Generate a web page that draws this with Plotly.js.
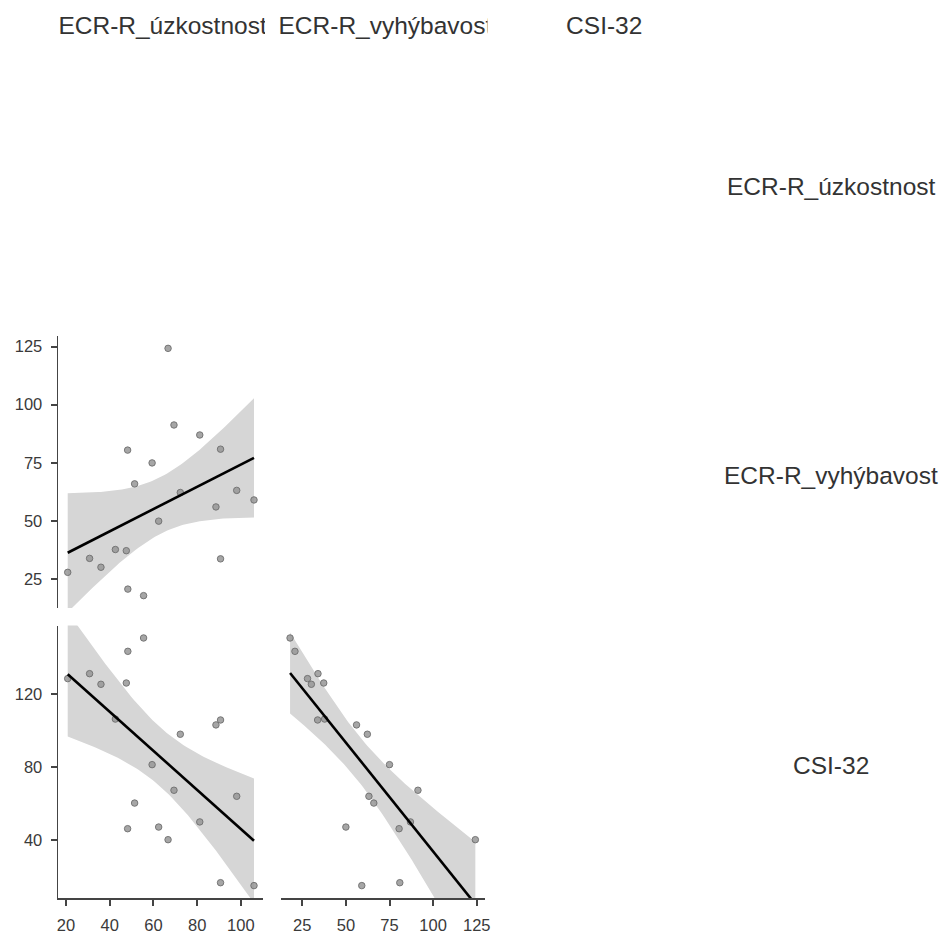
<!DOCTYPE html>
<html>
<head>
<meta charset="utf-8">
<script src="https://cdn.plot.ly/plotly-3.0.1.min.js"></script>
<style>
html, body { margin: 0; padding: 0; background: #ffffff; }
#chart { width: 942px; height: 935px; }
</style>
</head>
<body>
<div id="chart"></div>
<script>
// ---- data ----
const variableNames = ['ECR-R_úzkostnost', 'ECR-R_vyhýbavost', 'CSI-32'];
const anxiety   = [20.8, 30.8, 36.0, 42.6, 47.6, 48.2, 48.3, 51.4, 55.5, 59.4, 62.4, 66.7, 69.4, 72.3, 81.2, 88.6, 90.7, 90.7, 98.1, 106.0];
const avoidance = [28.0, 34.0, 30.2, 37.8, 37.3, 80.5, 20.8, 66.0, 18.0, 75.0, 50.0, 124.2, 91.3, 62.3, 87.0, 56.1, 80.9, 33.8, 63.2, 59.1];
const csi32     = [128.4, 131.1, 125.3, 106.3, 126.0, 46.4, 143.3, 60.4, 150.6, 81.4, 47.3, 40.4, 67.4, 98.0, 50.1, 103.1, 16.9, 105.8, 64.1, 15.3];
const ticksAnxiety = [20, 40, 60, 80, 100];
const ticksAvoidanceX = [25, 50, 75, 100, 125];
const ticksAvoidanceY = [25, 50, 75, 100, 125];
const ticksCsi = [40, 80, 120];

// ---- helpers ----
const W = 942, H = 935;
const px = v => v / W;
const py = v => 1 - v / H;

function padRange(a) {
  const mn = Math.min(...a), mx = Math.max(...a), d = mx - mn;
  return [mn - 0.05 * d, mx + 0.05 * d];
}

// linear model with 95% confidence band for the mean (as geom_smooth(method = "lm"))
function lmBand(x, y) {
  const n = x.length;
  const xb = x.reduce((s, v) => s + v, 0) / n;
  const yb = y.reduce((s, v) => s + v, 0) / n;
  let sxx = 0, sxy = 0;
  for (let i = 0; i < n; i++) { sxx += (x[i] - xb) ** 2; sxy += (x[i] - xb) * (y[i] - yb); }
  const b = sxy / sxx, a = yb - b * xb;
  let sse = 0;
  for (let i = 0; i < n; i++) sse += (y[i] - a - b * x[i]) ** 2;
  const s = Math.sqrt(sse / (n - 2));
  const tq = 2.100922; // t(0.975, df = 18)
  const mn = Math.min(...x), mx = Math.max(...x);
  const gx = [], gy = [], lo = [], hi = [];
  for (let k = 0; k < 80; k++) {
    const x0 = mn + (mx - mn) * k / 79;
    const yh = a + b * x0;
    const se = s * Math.sqrt(1 / n + (x0 - xb) ** 2 / sxx);
    gx.push(x0); gy.push(yh); lo.push(yh - tq * se); hi.push(yh + tq * se);
  }
  return { gx, gy, lo, hi };
}

const FONT = 'Liberation Sans, Arial, sans-serif';
const pointStyle = { size: 6.5, color: 'rgba(150,150,150,0.85)', line: { color: 'rgba(110,110,110,0.9)', width: 1 } };

function panelTraces(x, y, xa, ya) {
  const f = lmBand(x, y);
  return [
    { type: 'scatter', mode: 'lines', x: f.gx.concat(f.gx.slice().reverse()), y: f.hi.concat(f.lo.slice().reverse()),
      fill: 'toself', fillcolor: '#d6d6d6', line: { width: 0 }, hoverinfo: 'skip', xaxis: xa, yaxis: ya, showlegend: false },
    { type: 'scatter', mode: 'markers', x: x, y: y, marker: pointStyle, xaxis: xa, yaxis: ya, showlegend: false },
    { type: 'scatter', mode: 'lines', x: f.gx, y: f.gy, line: { color: '#000000', width: 2.6 }, xaxis: xa, yaxis: ya, showlegend: false }
  ];
}

const traces = []
  .concat(panelTraces(anxiety, avoidance, 'x', 'y'))
  .concat(panelTraces(anxiety, csi32, 'x2', 'y2'))
  .concat(panelTraces(avoidance, csi32, 'x3', 'y3'));

// column header strips (clipped on the right at their column like the reference)
const headerAnchor = ['left', 'left', 'center'];
['x4', 'x5', 'x6'].forEach((xa, i) => {
  traces.push({ type: 'scatter', mode: 'text', x: [headerAnchor[i] === 'left' ? 0 : 0.5], y: [0.5], text: [variableNames[i]],
    textposition: headerAnchor[i] === 'left' ? 'middle right' : 'middle center', cliponaxis: true,
    textfont: { family: FONT, size: 24.5, color: '#333333' },
    xaxis: xa, yaxis: 'y4', hoverinfo: 'skip', showlegend: false });
});

// ---- layout geometry ----
const col1 = [px(58.4), px(263.3)];
const col2 = [px(280.8), px(484.6)];
const col3 = [px(502), px(706.5)];
const head1 = [px(58.4), px(265)];
const head2 = [px(278.5), px(487.5)];
const row2 = [py(608), py(336)];
const row3 = [py(898), py(625.6)];
const header = [py(50), py(5)];

const axisCommon = {
  showline: true, linecolor: '#444444', linewidth: 1.8,
  ticks: 'outside', ticklen: 6, tickwidth: 2, tickcolor: '#444444',
  showgrid: false, zeroline: false,
  tickfont: { family: FONT, size: 16.5, color: '#3a3a3a' },
  fixedrange: true
};
const hidden = { visible: false, showgrid: false, zeroline: false, fixedrange: true };

const layout = {
  width: W, height: H,
  margin: { l: 0, r: 0, t: 0, b: 0 },
  paper_bgcolor: '#ffffff', plot_bgcolor: 'rgba(0,0,0,0)',
  showlegend: false,
  xaxis:  Object.assign({}, hidden, { domain: col1, range: padRange(anxiety), anchor: 'y' }),
  yaxis:  Object.assign({}, axisCommon, { domain: row2, range: padRange(avoidance), anchor: 'x', tickvals: ticksAvoidanceY, ticklabelstandoff: 5 }),
  xaxis2: Object.assign({}, axisCommon, { domain: col1, range: padRange(anxiety), anchor: 'y2', tickvals: ticksAnxiety, ticklabelstandoff: 5 }),
  yaxis2: Object.assign({}, axisCommon, { domain: row3, range: padRange(csi32), anchor: 'x2', tickvals: ticksCsi, ticklabelstandoff: 5 }),
  xaxis3: Object.assign({}, axisCommon, { domain: col2, range: padRange(avoidance), anchor: 'y3', tickvals: ticksAvoidanceX, ticklabelstandoff: 5 }),
  yaxis3: Object.assign({}, hidden, { domain: row3, range: padRange(csi32), anchor: 'x3' }),
  xaxis4: Object.assign({}, hidden, { domain: head1, range: [0, 1], anchor: 'y4' }),
  xaxis5: Object.assign({}, hidden, { domain: head2, range: [0, 1], anchor: 'y4' }),
  xaxis6: Object.assign({}, hidden, { domain: col3, range: [0, 1], anchor: 'y4' }),
  yaxis4: Object.assign({}, hidden, { domain: header, range: [0, 1], anchor: 'x4' }),
  annotations: [
    { text: variableNames[0], y: py(187) },
    { text: variableNames[1], y: py(476) },
    { text: variableNames[2], y: py(765) }
  ].map(a => Object.assign({ xref: 'paper', yref: 'paper', x: px(831), xanchor: 'center', yanchor: 'middle',
    showarrow: false, font: { family: FONT, size: 24.5, color: '#333333' } }, a))
};

Plotly.newPlot('chart', traces, layout, { staticPlot: true, displayModeBar: false });
</script>
</body>
</html>
